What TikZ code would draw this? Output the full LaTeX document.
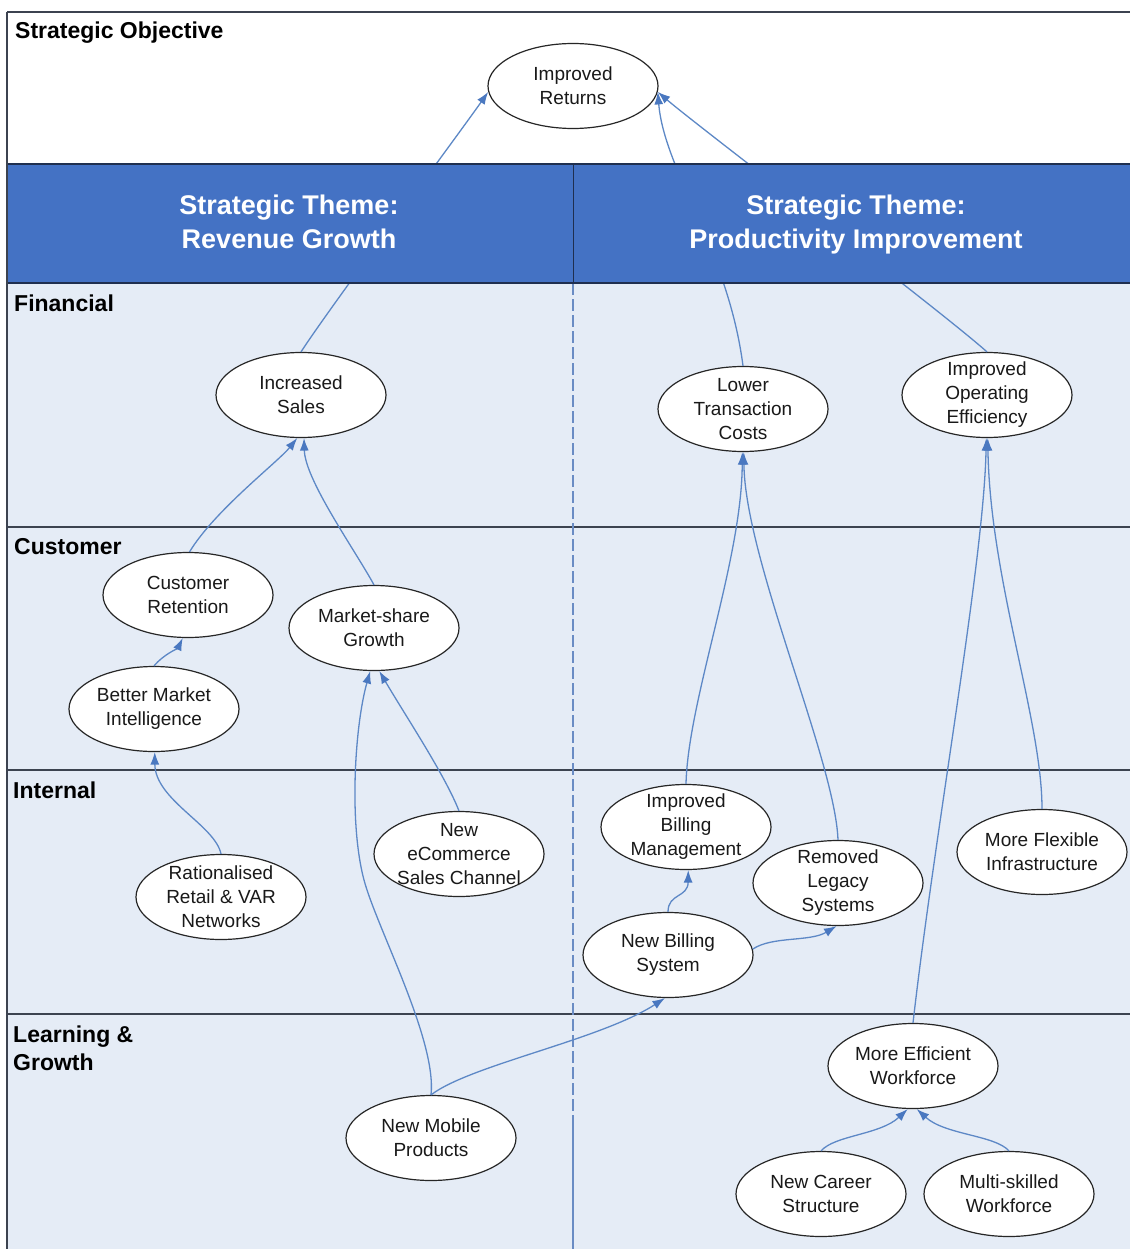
\documentclass[tikz,border=0pt]{standalone}
\usepackage{fontspec}
\setmainfont{Liberation Sans}
\usetikzlibrary{shapes.geometric,arrows.meta}
\definecolor{hdr}{HTML}{4472C4}
\definecolor{pane}{HTML}{E5ECF6}
\definecolor{conn}{HTML}{5D88C6}
\definecolor{tipc}{HTML}{4A78C0}
\definecolor{rulec}{HTML}{3C4350}
\definecolor{navy}{HTML}{1F2F4F}
\definecolor{dashc}{HTML}{6A8CC4}
\newcommand\objnode[3]{%
  \node[obj] (#1) at (#2) {};
  \node[objtext] (#1t) at (#1.center) {#3};}
\begin{document}
\begin{tikzpicture}[x=1pt,y=-1pt,
  obj/.style={ellipse,draw=black!85,line width=1.2pt,fill=white,minimum width=170pt,minimum height=85pt,inner sep=0pt},
  objtext/.style={font=\fontsize{19}{24}\selectfont,align=center,inner sep=0pt,text=black!90},
  rowlabel/.style={font=\fontsize{23}{28}\selectfont\bfseries,anchor=west,align=left,inner sep=0pt},
  theme/.style={font=\fontsize{27}{34}\selectfont\bfseries,text=white,align=center,inner sep=0pt},
  link/.style={draw=conn,line width=1.3pt,-{Latex[length=12.5pt,width=9pt,color=tipc]}},
  rowline/.style={draw=rulec,line width=1.6pt},
]
\useasboundingbox (0,0) rectangle (1130,1249);
\fill[white] (0,0) rectangle (1130,1249);
\fill[pane] (7,283) rectangle (1130,1249);
% frame and row lines
\draw[rowline] (7,12) -- (1130,12);
\draw[rowline] (7,12) -- (7,1249);
\draw[rowline] (7,527) -- (1130,527);
\draw[rowline] (7,770) -- (1130,770);
\draw[rowline] (7,1014) -- (1130,1014);
% column divider
\draw[dashc,line width=1.2pt,dash pattern=on 12pt off 4pt] (573,283) -- (573,1125);
\draw[dashc,line width=1.2pt] (573,1125) -- (573,1249);

% row labels
\node[rowlabel] (lblobj) at (15,33) {Strategic Objective};
\node[rowlabel] (lblfin) at (14,303) {Financial};
\node[rowlabel] (lblcus) at (14,547) {Customer};
\node[rowlabel] (lblint) at (13,790) {Internal};
\node[rowlabel] (lbllrn) at (13,1048) {Learning \&\\Growth};

% objectives
\objnode{IR}{573,86}{Improved\\Returns}
\objnode{IS}{301,395}{Increased\\Sales}
\objnode{LTC}{743,409}{Lower\\Transaction\\Costs}
\objnode{IOE}{987,395}{Improved\\Operating\\Efficiency}
\objnode{CR}{188,595}{Customer\\Retention}
\objnode{MSG}{374,628}{Market-share\\Growth}
\objnode{BMI}{154,709}{Better Market\\Intelligence}
\objnode{RRV}{221,897}{Rationalised\\Retail \& VAR\\Networks}
\objnode{NEC}{459,854}{New\\eCommerce\\Sales Channel}
\objnode{IBM}{686,827}{Improved\\Billing\\Management}
\objnode{RLS}{838,883}{Removed\\Legacy\\Systems}
\objnode{MFI}{1042,852}{More Flexible\\Infrastructure}
\objnode{NBS}{668,955}{New Billing\\System}
\objnode{MEW}{913,1066}{More Efficient\\Workforce}
\objnode{NMP}{431,1138}{New Mobile\\Products}
\objnode{NCS}{821,1194}{New Career\\Structure}
\objnode{MSW}{1009,1194}{Multi-skilled\\Workforce}

% connectors
\draw[link] (IS.north) .. controls (328,310) and (458,135) .. (IR.184);
\draw[link] (LTC.north) .. controls (728,250) and (664,170) .. (IR.-4);
\draw[link] (IOE.north) .. controls (940,310) and (700,128) .. (IR.-4);
\draw[link] (CR.88) .. controls (215,510) and (278,462) .. (IS.-95);
\draw[link] (MSG.north) .. controls (355,550) and (305,480) .. (IS.-86);
\draw[link] (BMI.north) .. controls (163,655) and (178,648) .. (CR.-97);
\draw[link] (RRV.north) .. controls (215,825) and (155,800) .. (BMI.-89);
\draw[link] (NEC.north) .. controls (445,775) and (405,715) .. (MSG.-83);
\draw[link] (NMP.north) .. controls (437,1040) and (376.8,928) .. (364,880) .. controls (348.6,822) and (355,724.5) .. (MSG.-95);
\draw[link] (NMP.north) .. controls (470,1065) and (600,1040) .. (NBS.-94);
\draw[link] (NBS.north) .. controls (668,893) and (688,898) .. (IBM.-87);
\draw[link] (NBS.4) .. controls (772,936) and (810,942) .. (RLS.-92);
\draw[link] (IBM.north) .. controls (688,700) and (742,560) .. (LTC.-91);
\draw[link] (RLS.north) .. controls (835,760) and (745,560) .. (LTC.-89);
\draw[link] (MFI.north) .. controls (1042,720) and (990,580) .. (IOE.-89);
\draw[link] (MEW.north) .. controls (935,830) and (984,560) .. (IOE.-91);
\draw[link] (NCS.north) .. controls (835,1135) and (880,1135) .. (MEW.-97);
\draw[link] (MSW.north) .. controls (995,1135) and (945,1135) .. (MEW.-85);

% theme header band (covers the connectors passing beneath it)
\fill[hdr] (7,164) rectangle (1130,283);
\draw[navy,line width=1.6pt] (7,164) -- (1130,164);
\draw[navy,line width=1.8pt] (7,283) -- (1130,283);
\draw[navy,line width=1pt] (573,164) -- (573,283);
\draw[rowline] (7,12) -- (7,1249);
\node[theme] (threv) at (289,222) {Strategic Theme:\\Revenue Growth};
\node[theme] (thprod) at (856,225) {Strategic Theme:\\Productivity Improvement};
\end{tikzpicture}
\end{document}
